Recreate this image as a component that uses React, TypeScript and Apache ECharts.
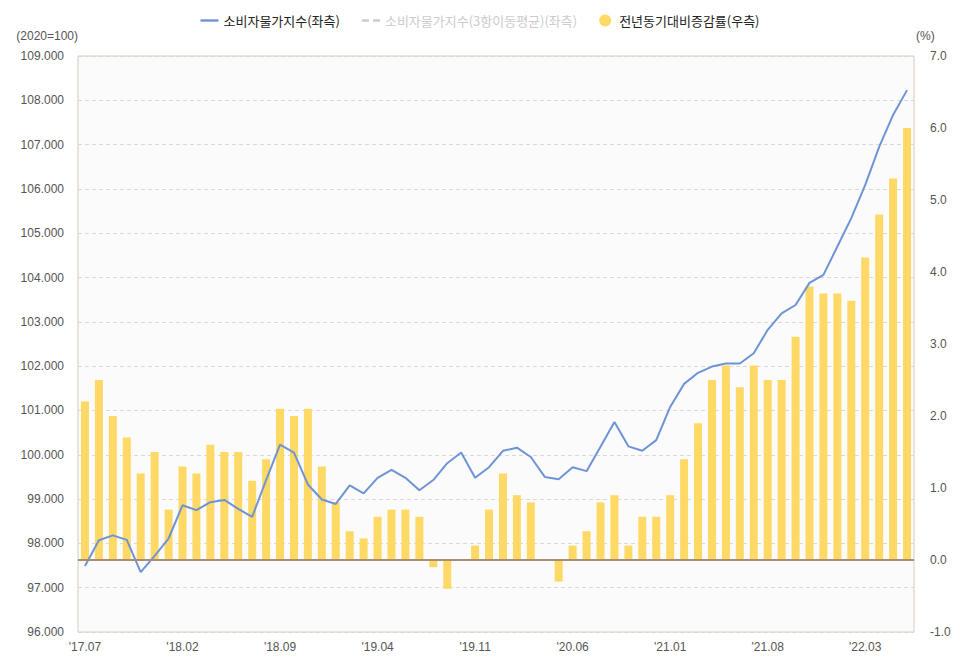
import React, { useEffect, useRef } from "react";
import * as echarts from "echarts";

// Monthly consumer price index (2020=100) and year-on-year change, 2017.07 – 2022.06
const months: string[] = [
  "'17.07", "'17.08", "'17.09", "'17.10", "'17.11", "'17.12",
  "'18.01", "'18.02", "'18.03", "'18.04", "'18.05", "'18.06",
  "'18.07", "'18.08", "'18.09", "'18.10", "'18.11", "'18.12",
  "'19.01", "'19.02", "'19.03", "'19.04", "'19.05", "'19.06",
  "'19.07", "'19.08", "'19.09", "'19.10", "'19.11", "'19.12",
  "'20.01", "'20.02", "'20.03", "'20.04", "'20.05", "'20.06",
  "'20.07", "'20.08", "'20.09", "'20.10", "'20.11", "'20.12",
  "'21.01", "'21.02", "'21.03", "'21.04", "'21.05", "'21.06",
  "'21.07", "'21.08", "'21.09", "'21.10", "'21.11", "'21.12",
  "'22.01", "'22.02", "'22.03", "'22.04", "'22.05", "'22.06",
];

const cpiIndex: number[] = [
  97.49, 98.07, 98.18, 98.08, 97.35, 97.72,
  98.11, 98.86, 98.75, 98.93, 98.98, 98.78,
  98.6, 99.43, 100.23, 100.05, 99.33, 98.99,
  98.89, 99.31, 99.13, 99.48, 99.66, 99.48,
  99.2, 99.43, 99.81, 100.05, 99.48, 99.72,
  100.09, 100.16, 99.95, 99.5, 99.45, 99.72,
  99.63, 100.18, 100.74, 100.19, 100.09, 100.33,
  101.08, 101.6, 101.85, 101.99, 102.06, 102.06,
  102.29, 102.82, 103.19, 103.38, 103.88, 104.06,
  104.7, 105.34, 106.09, 106.95, 107.67, 108.23,
];

const yoyChange: number[] = [
  2.2, 2.5, 2.0, 1.7, 1.2, 1.5,
  0.7, 1.3, 1.2, 1.6, 1.5, 1.5,
  1.1, 1.4, 2.1, 2.0, 2.1, 1.3,
  0.8, 0.4, 0.3, 0.6, 0.7, 0.7,
  0.6, -0.1, -0.4, 0.0, 0.2, 0.7,
  1.2, 0.9, 0.8, 0.0, -0.3, 0.2,
  0.4, 0.8, 0.9, 0.2, 0.6, 0.6,
  0.9, 1.4, 1.9, 2.5, 2.7, 2.4,
  2.7, 2.5, 2.5, 3.1, 3.8, 3.7,
  3.7, 3.6, 4.2, 4.8, 5.3, 6.0,
];

const SERIES_INDEX = "소비자물가지수(좌측)";
const SERIES_AVG = "소비자물가지수(3항이동평균)(좌측)";
const SERIES_YOY = "전년동기대비증감률(우측)";

const LABEL_FONT = "'Liberation Sans', 'Noto Sans CJK KR', sans-serif";
const KR_FONT = "'Noto Sans CJK KR', sans-serif";

// Legend marks: a solid stroke and a short dashed stroke
const ICON_SOLID = "path://M0,0 L18,0 L18,2.4 L0,2.4 Z";
const ICON_DASHED = "path://M0,0 L7,0 L7,2.4 L0,2.4 Z M11,0 L18,0 L18,2.4 L11,2.4 Z";

export default function App() {
  const ref = useRef<HTMLDivElement>(null);

  useEffect(() => {
    if (!ref.current) return;
    const chart = echarts.init(ref.current, null, { renderer: "svg" });
    chart.setOption({
      animation: false,
      backgroundColor: "#ffffff",
      legend: {
        top: 9,
        left: "center",
        itemGap: 22,
        itemWidth: 18,
        itemHeight: 12,
        textStyle: { fontFamily: KR_FONT, fontSize: 13, color: "#222" },
        inactiveColor: "#cccccc",
        selected: { [SERIES_AVG]: false },
        data: [
          { name: SERIES_INDEX, icon: ICON_SOLID },
          { name: SERIES_AVG, icon: ICON_DASHED },
          { name: SERIES_YOY, icon: "circle" },
        ],
      },
      grid: {
        left: 78,
        right: 46,
        top: 56,
        bottom: 35,
        show: true,
        backgroundColor: "#fbfbfb",
        borderColor: "#d8ccbf",
        borderWidth: 1,
      },
      xAxis: {
        type: "category",
        data: months,
        boundaryGap: true,
        axisLine: { lineStyle: { color: "#c4d2e4", width: 1 } },
        axisTick: { show: false },
        axisLabel: {
          interval: 6,
          color: "#555",
          fontSize: 12,
          fontFamily: LABEL_FONT,
          margin: 9,
        },
        splitLine: { show: false },
      },
      yAxis: [
        {
          type: "value",
          min: 96,
          max: 109,
          interval: 1,
          name: "(2020=100)",
          nameLocation: "end",
          nameGap: 14,
          nameTextStyle: {
            color: "#555",
            fontSize: 12,
            fontFamily: LABEL_FONT,
            align: "right",
          },
          axisLine: { show: false },
          axisTick: { show: false },
          axisLabel: {
            color: "#555",
            fontSize: 12,
            fontFamily: LABEL_FONT,
            margin: 14,
            formatter: (v: number) => v.toFixed(3),
          },
          splitLine: { lineStyle: { color: "#d9d9d9", type: [4, 3] } },
        },
        {
          type: "value",
          min: -1,
          max: 7,
          interval: 1,
          name: "(%)",
          nameLocation: "end",
          nameGap: 14,
          nameTextStyle: {
            color: "#555",
            fontSize: 12,
            fontFamily: LABEL_FONT,
            align: "left",
            padding: [0, 0, 0, 2],
          },
          axisLine: { show: false },
          axisTick: { show: false },
          axisLabel: {
            color: "#555",
            fontSize: 12,
            fontFamily: LABEL_FONT,
            margin: 16,
            formatter: (v: number) => v.toFixed(1),
          },
          splitLine: { show: false },
        },
      ],
      series: [
        {
          name: SERIES_YOY,
          type: "bar",
          yAxisIndex: 1,
          data: yoyChange,
          barWidth: 8,
          itemStyle: { color: "#ffd966" },
          z: 2,
          markLine: {
            silent: true,
            symbol: "none",
            label: { show: false },
            lineStyle: { color: "#a88e74", width: 2, type: "solid" },
            data: [{ yAxis: 0 }],
          },
        },
        {
          name: SERIES_AVG,
          type: "line",
          yAxisIndex: 0,
          data: [],
          symbol: "none",
          itemStyle: { color: "#cccccc" },
          lineStyle: { color: "#cccccc", width: 2, type: "dashed" },
        },
        {
          name: SERIES_INDEX,
          type: "line",
          yAxisIndex: 0,
          data: cpiIndex,
          symbol: "none",
          itemStyle: { color: "#6f94d6" },
          lineStyle: { color: "#6f94d6", width: 2 },
          z: 4,
        },
      ],
    });
    return () => chart.dispose();
  }, []);

  return (
    <div
      ref={ref}
      style={{ position: "fixed", left: 0, top: 0, width: 960, height: 667 }}
    />
  );
}
